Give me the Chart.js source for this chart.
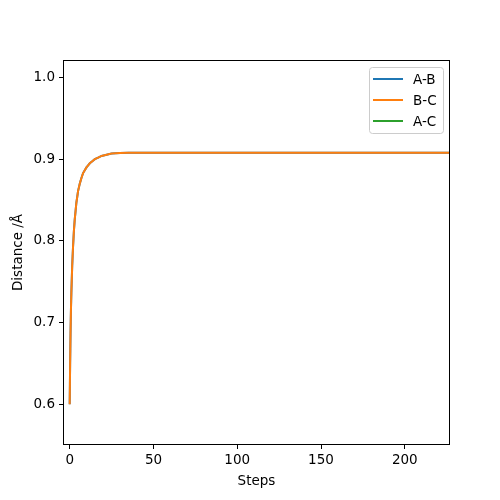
<!DOCTYPE html>
<html>
<head>
<meta charset="utf-8">
<script src="https://cdn.jsdelivr.net/npm/chart.js@4"></script>
<style>
  html, body { margin: 0; padding: 0; background: #fff; }
  canvas { display: block; }
</style>
</head>
<body>
<canvas id="distChart" width="500" height="500"></canvas>
<script>
// distances along the run
const steps = [0, 0.25, 0.5, 0.75, 1, 1.5, 2, 2.5, 3, 4, 5, 6, 7, 8, 10, 12, 15, 19, 25, 30, 40, 60, 80, 100, 120, 140, 160, 180, 200, 220, 230];
const abDist = [0.600, 0.648, 0.687, 0.716, 0.737, 0.770, 0.793, 0.812, 0.826, 0.847, 0.861, 0.870, 0.877, 0.883, 0.890, 0.895, 0.900, 0.904, 0.907, 0.9077, 0.908, 0.908, 0.908, 0.908, 0.908, 0.908, 0.908, 0.908, 0.908, 0.908, 0.908];
const bcDist = [0.600, 0.648, 0.687, 0.716, 0.737, 0.770, 0.793, 0.812, 0.826, 0.847, 0.861, 0.870, 0.877, 0.883, 0.890, 0.895, 0.900, 0.904, 0.907, 0.9077, 0.908, 0.908, 0.908, 0.908, 0.908, 0.908, 0.908, 0.908, 0.908, 0.908, 0.908];
// A-C sits above the visible range
const acDist = [1.200, 1.296, 1.374, 1.432, 1.474, 1.540, 1.586, 1.624, 1.652, 1.694, 1.722, 1.740, 1.754, 1.766, 1.780, 1.790, 1.800, 1.808, 1.814, 1.8154, 1.816, 1.816, 1.816, 1.816, 1.816, 1.816, 1.816, 1.816, 1.816, 1.816, 1.816];
const labels = ['A-B', 'B-C', 'A-C'];
const colors = ['#1f77b4', '#ff7f0e', '#2ca02c'];
const xTicks = [0, 50, 100, 150, 200];
const yTicks = [0.6, 0.7, 0.8, 0.9, 1.0];

const font = 'DejaVu Sans';
const fontSize = 13.5;

function toPoints(ys) {
    return steps.map((s, i) => ({ x: s, y: ys[i] }));
}

// box around the axes and legend inside the top right corner
const boxAndLegend = {
    id: 'boxAndLegend',
    afterDatasetsDraw(chart) {
        const ctx = chart.ctx;
        const a = chart.chartArea;
        ctx.save();
        ctx.strokeStyle = '#000';
        ctx.lineWidth = 1;
        ctx.strokeRect(Math.round(a.left) + 0.5, Math.round(a.top) + 0.5,
            Math.round(a.right - a.left) - 1, Math.round(a.bottom - a.top) - 1);

        const bx = 369, by = 67, bw = 74, bh = 66;
        ctx.beginPath();
        ctx.roundRect(bx + 0.5, by + 0.5, bw, bh, 3);
        ctx.fillStyle = 'rgba(255,255,255,0.8)';
        ctx.fill();
        ctx.strokeStyle = '#cccccc';
        ctx.stroke();

        ctx.font = fontSize + 'px "' + font + '"';
        ctx.textBaseline = 'middle';
        ctx.textAlign = 'left';
        labels.forEach((lab, i) => {
            const y = 79 + i * 21;
            ctx.beginPath();
            ctx.moveTo(373, y);
            ctx.lineTo(403, y);
            ctx.strokeStyle = colors[i];
            ctx.lineWidth = 2;
            ctx.stroke();
            ctx.fillStyle = '#000';
            ctx.fillText(lab, 413, y + 1);
        });
        ctx.restore();
    }
};

const ctx = document.getElementById('distChart').getContext('2d');

new Chart(ctx, {
    type: 'line',
    data: {
        datasets: labels.map((lab, i) => ({
            label: lab,
            data: toPoints([abDist, bcDist, acDist][i]),
            borderColor: colors[i],
            backgroundColor: colors[i],
            borderWidth: 2,
            pointRadius: 0,
            // tiny tension keeps chart.js off its pixel-snapping fast path
            tension: 0.001,
            fill: false,
            // orange drawn over blue, as in the picture
            order: [2, 1, 0][i]
        }))
    },
    options: {
        responsive: false,
        animation: false,
        layout: { padding: { left: 0, top: 60, right: 50, bottom: 0 } },
        plugins: {
            legend: { display: false },
            tooltip: { enabled: false }
        },
        scales: {
            x: {
                type: 'linear',
                min: -4,
                max: 227,
                afterBuildTicks: (scale) => { scale.ticks = xTicks.map(v => ({ value: v })); },
                afterFit: (scale) => { scale.height = 55; },
                grid: { display: true, drawOnChartArea: false, drawTicks: true, tickLength: 4, color: '#000' },
                border: { display: false },
                ticks: { color: '#000', padding: 3, maxRotation: 0, font: { family: font, size: fontSize } },
                title: { display: true, text: 'Steps', color: '#000', padding: { top: 0, bottom: 10 }, font: { family: font, size: fontSize } }
            },
            y: {
                type: 'linear',
                min: 0.55,
                max: 1.0215,
                afterBuildTicks: (scale) => { scale.ticks = yTicks.map(v => ({ value: v })); },
                afterFit: (scale) => { scale.width = 63; },
                grid: { display: true, drawOnChartArea: false, drawTicks: true, tickLength: 4, color: '#000' },
                border: { display: false },
                ticks: { color: '#000', padding: 4, callback: (v) => v.toFixed(1), font: { family: font, size: fontSize } },
                title: { display: true, text: 'Distance /Å', color: '#000', padding: { top: 10, bottom: 0 }, font: { family: font, size: fontSize } }
            }
        }
    },
    plugins: [boxAndLegend]
});
</script>
</body>
</html>
